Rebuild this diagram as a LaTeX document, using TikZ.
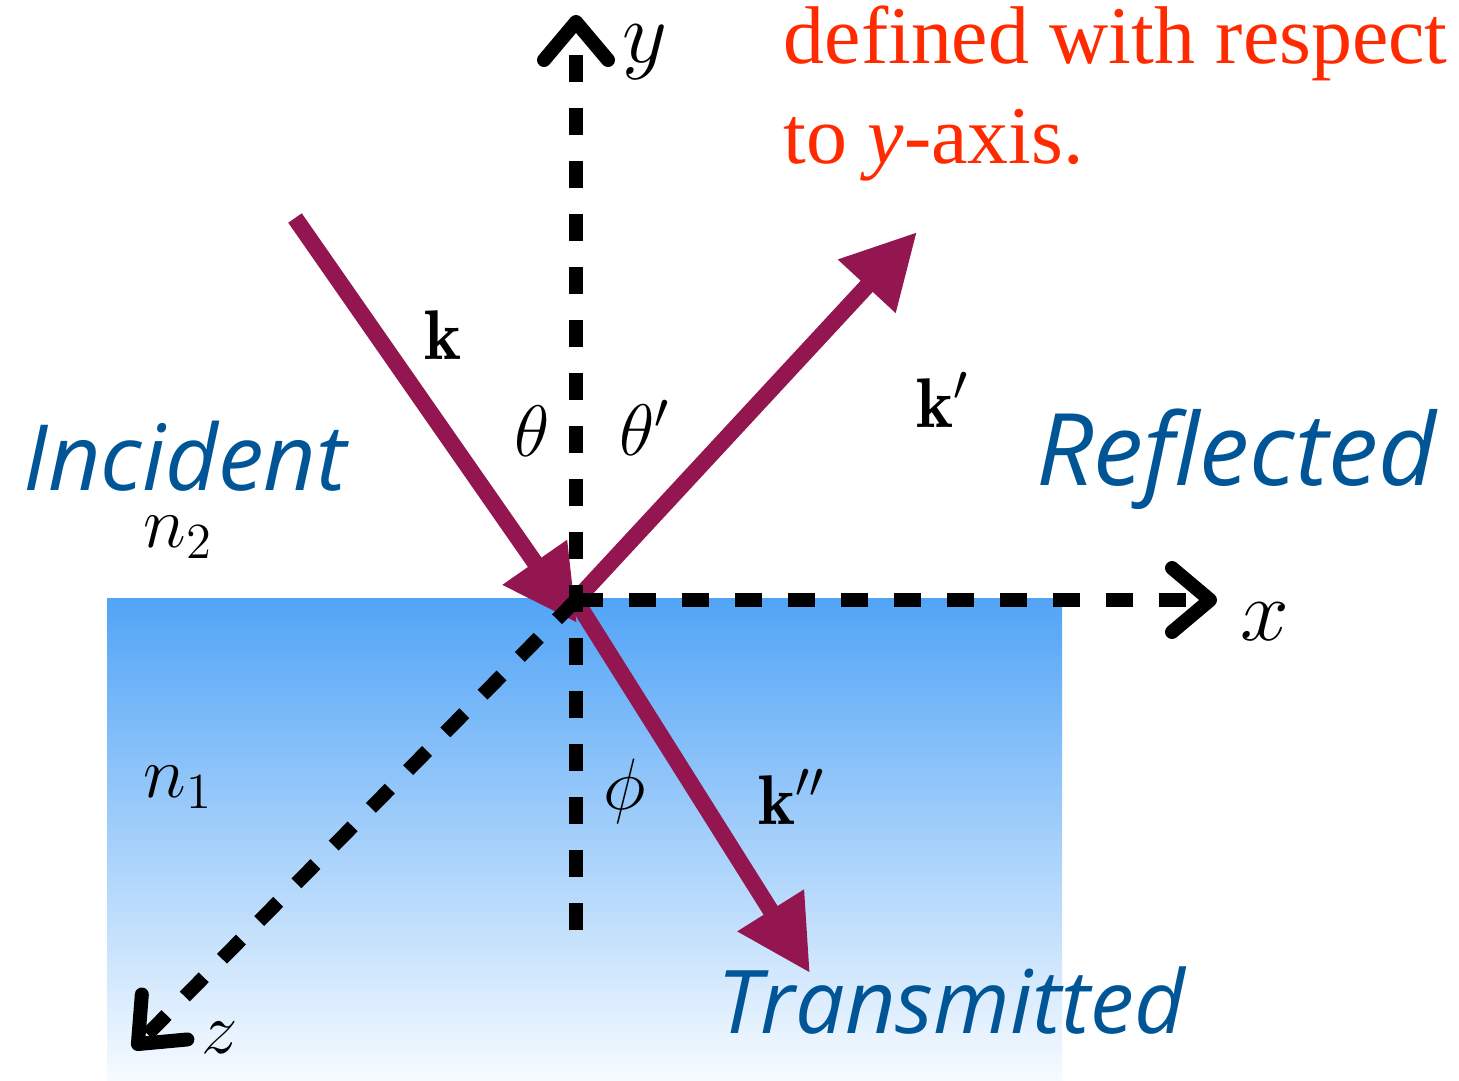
\documentclass[tikz,border=0pt]{standalone}
\usepackage{fontspec}
\newfontfamily\mediumfont{Open Sans}
\newfontfamily\notefont{Liberation Serif}
\usepackage{xcolor}
\definecolor{RayMaroon}{HTML}{931650}
\definecolor{MediumTop}{HTML}{52A4F6}
\definecolor{MediumBottom}{HTML}{F7FBFF}
\definecolor{RegionBlue}{HTML}{005596}
\definecolor{NoteRed}{HTML}{FF2A00}
\usepackage{amsmath}
\usepackage{tikz}
\usetikzlibrary{arrows.meta,calc}
\tikzset{
  rayflow/.style={-{Triangle[length=7.4mm,width=7.4mm]},draw=RayMaroon,line width=1.65mm},
  axisflow/.style={-{Straight Barb[length=3.8mm,width=6.4mm,round]},draw=black,line width=1.4mm,dash pattern=on 2.7mm off 2.6mm},
  regionlabel/.style={text=RegionBlue,font=\mediumfont\itshape\fontsize{26}{30}\selectfont,inner sep=0pt,anchor=base},
  symlabel/.style={font=\fontsize{20}{24}\selectfont,inner sep=0pt},
  axislabel/.style={font=\fontsize{27}{32}\selectfont,inner sep=0pt},
  notetext/.style={text=NoteRed,font=\notefont\fontsize{23.3}{27}\selectfont,inner sep=0pt,anchor=base west}
}

\begin{document}
\begin{tikzpicture}[x=0.1mm,y=-0.1mm]
  \useasboundingbox (0,0) rectangle (1459,1080);
  % lower medium
  \shade[top color=MediumTop,bottom color=MediumBottom] (107,598) rectangle (1062,1080);

  \coordinate (O) at (576,600);
  \coordinate (kin) at (295,218);
  \coordinate (kinend) at (577,623);
  \coordinate (kout) at (917,232);
  \coordinate (ktrstart) at (578,604);
  \coordinate (ktr) at (810,973);
  \coordinate (ybot) at (576,930);
  \coordinate (ytip) at (576,15);
  \coordinate (xtip) at (1217,600);
  \coordinate (ztip) at (133,1049);

  % wave vectors
  \draw[rayflow] (kin) -- (kinend);
  \draw[rayflow] (O) -- (kout);
  \draw[rayflow] (ktrstart) -- (ktr);

  % axes
  \draw[axisflow] (ybot) -- (ytip);
  \draw[axisflow] (O) -- (xtip);
  \draw[axisflow] (O) -- (ztip);

  \node[axislabel] (ylab) at (645,52) {$y$};
  \node[axislabel] (xlab) at (1265,622) {$x$};
  \node[symlabel,font=\fontsize{21}{25}\selectfont] (zlab) at (220,1038) {$z$};

  \node[symlabel] (klab) at (443,335) {$\mathbf{k}$};
  \node[symlabel] (kplab) at (943,400) {$\mathbf{k}'$};
  \node[symlabel] (kpplab) at (792,797) {$\mathbf{k}''$};
  \node[symlabel] (thetalab) at (532,431) {$\theta$};
  \node[symlabel] (thetaplab) at (645,428) {$\theta'$};
  \node[symlabel] (philab) at (625,791) {$\phi$};
  \node[symlabel,font=\fontsize{21}{25}\selectfont] (ntwo) at (178,537) {$n_2$};
  \node[symlabel,font=\fontsize{21}{25}\selectfont] (none) at (178,787) {$n_1$};

  \node[regionlabel] (incident) at (185,490) {Incident};
  \node[regionlabel,font=\mediumfont\itshape\fontsize{28.5}{32}\selectfont] (reflected) at (1236,485) {Reflected};
  \node[regionlabel,font=\mediumfont\itshape\fontsize{25}{30}\selectfont] (transmitted) at (951,1033) {Transmitted};

  \node[notetext] (notetop) at (783,63) {defined with respect};
  \node[notetext] (notebottom) at (783,163) {to \textit{y}-axis.};
\end{tikzpicture}
\end{document}
